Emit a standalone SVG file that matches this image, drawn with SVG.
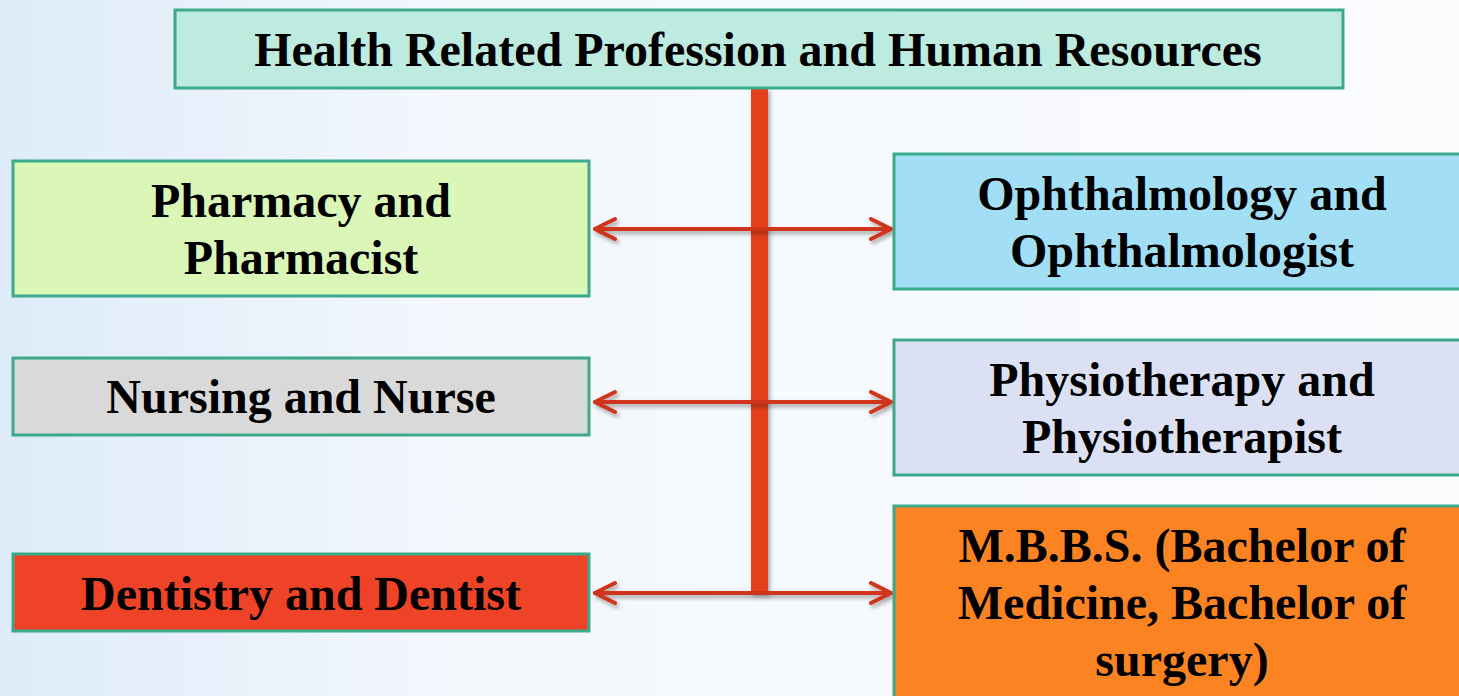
<svg xmlns="http://www.w3.org/2000/svg" width="1459" height="696" viewBox="0 0 1459 696">
<defs>
<linearGradient id="bg" x1="0" y1="0" x2="1" y2="0">
<stop offset="0" stop-color="#DDEBF9"/>
<stop offset="0.3" stop-color="#F3F7FD"/>
<stop offset="1" stop-color="#FBFCFE"/>
</linearGradient>
<filter id="sh" filterUnits="userSpaceOnUse" x="0" y="0" width="1459" height="696">
<feDropShadow dx="2" dy="3" stdDeviation="2" flood-color="#000" flood-opacity="0.35"/>
</filter>
<marker id="ahb" viewBox="0 0 24 24" refX="22" refY="12" markerWidth="24" markerHeight="24" markerUnits="userSpaceOnUse" orient="auto-start-reverse">
<path d="M2,2 L22,12 L2,22" fill="none" stroke="#D0361F" stroke-width="4" stroke-linecap="round" stroke-linejoin="miter"/>
</marker>
</defs>
<style>
.box{stroke:#3BAA8A;stroke-width:3}
.t{font-family:"Liberation Serif","Times New Roman",serif;font-weight:bold;font-size:48px;fill:#000;text-anchor:middle}
.arr{stroke:#D0361F;stroke-width:4;fill:none}
</style>
<rect width="1459" height="696" fill="url(#bg)"/>
<g id="connectors">
<rect x="751" y="88" width="17" height="505" fill="#E5401F" filter="url(#sh)"/>
<g filter="url(#sh)">
<path class="arr" d="M595,229 H891" marker-start="url(#ahb)" marker-end="url(#ahb)"/>
<path class="arr" d="M595,402 H891" marker-start="url(#ahb)" marker-end="url(#ahb)"/>
<path class="arr" d="M595,593 H891" marker-start="url(#ahb)" marker-end="url(#ahb)"/>
</g>
</g>
<g id="top">
<rect class="box" x="175" y="10" width="1168" height="78" fill="#BDEBDF"/>
<text class="t" x="758" y="66">Health Related Profession and Human Resources</text>
</g>
<g id="pharmacy">
<rect class="box" x="13" y="161" width="576" height="135" fill="#DAF7B8"/>
<text class="t" x="301" y="217">Pharmacy and</text>
<text class="t" x="301" y="274">Pharmacist</text>
</g>
<g id="nursing">
<rect class="box" x="13" y="358" width="576" height="77" fill="#D9D9D9"/>
<text class="t" x="301" y="413">Nursing and Nurse</text>
</g>
<g id="dentistry">
<rect class="box" x="13" y="554" width="576" height="77" fill="#EE4327"/>
<text class="t" x="301" y="610">Dentistry and Dentist</text>
</g>
<g id="ophthalmology">
<rect class="box" x="894" y="154" width="570" height="135" fill="#A2DFF6"/>
<text class="t" x="1182" y="210">Ophthalmology and</text>
<text class="t" x="1182" y="267">Ophthalmologist</text>
</g>
<g id="physiotherapy">
<rect class="box" x="894" y="340" width="570" height="135" fill="#DCE0F4"/>
<text class="t" x="1182" y="396">Physiotherapy and</text>
<text class="t" x="1182" y="453">Physiotherapist</text>
</g>
<g id="mbbs">
<rect class="box" x="894" y="506" width="570" height="200" fill="#FC8321"/>
<text class="t" x="1182" y="562">M.B.B.S. (Bachelor of</text>
<text class="t" x="1182" y="619">Medicine, Bachelor of</text>
<text class="t" x="1182" y="676">surgery)</text>
</g>
</svg>
